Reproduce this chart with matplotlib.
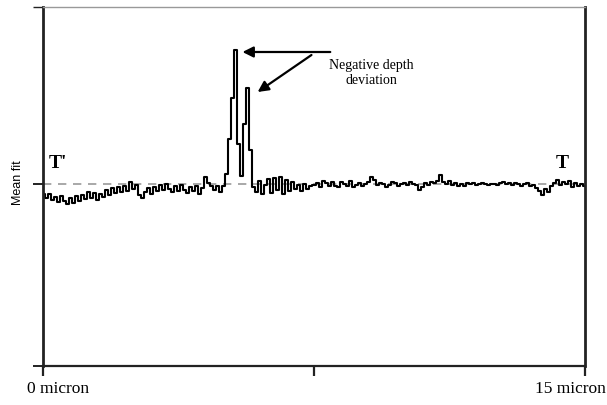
import numpy as np
import matplotlib
matplotlib.use("Agg")
import matplotlib.pyplot as plt

# deviation of the mean fit from its average level (arbitrary units), 0..15 micron
seg_left = [-1.0, -1.4, -1.0, -1.6, -1.3, -1.8, -1.2, -1.7, -2.0, -1.4, -1.9, -1.2, -1.7, -1.1, -1.5, -0.8, -1.4, -0.9, -1.6, -1.0,
            -1.3, -0.6, -1.1, -0.4, -0.9, -0.3, -0.8, -0.2, -0.7, 0.2, -0.5, -0.1, -1.1, -1.4, -0.8, -0.4, -1.0, -0.3, -0.7, -0.1,
            -0.6, 0.0, -0.5, -0.8, -0.2, -0.7, -0.1, -0.6, -0.9, -0.3, -0.7, -0.2, -1.0, -0.4, 0.7, 0.1, -0.2, -0.6, -0.2, -0.8, -0.2]
seg_peak = [1.0, 4.5, 8.6, 13.4, 4.0, 0.8, 6.0, 9.6, 3.4]
seg_right = [-0.3, -0.8, 0.3, -1.0, -0.1, 0.5, -0.9, 0.6, -0.6, 0.7, -1.0, 0.4, -0.7, 0.2, -0.5, -0.1, -0.7, 0.0, -0.5, -0.2,
             -0.1, 0.1, -0.3, 0.3, 0.1, -0.2, 0.2, -0.2, -0.3, 0.2, 0.0, -0.2, 0.3, -0.3, -0.1, 0.1, -0.2, 0.0, 0.2, 0.7,
             0.4, -0.1, 0.1, 0.0, -0.3, -0.1, 0.2, 0.1, -0.2, 0.0, 0.1, -0.1, 0.2, 0.0, -0.1, -0.6, -0.3, 0.1, -0.1, 0.2,
             0.1, 0.3, 0.9, 0.2, 0.0, 0.3, -0.1, 0.1, -0.2, 0.0, -0.2, 0.1, 0.0, 0.1, -0.1, 0.0, 0.1, 0.0, -0.1, 0.0,
             0.0, -0.1, 0.1, 0.2, 0.0, 0.1, -0.1, 0.1, 0.0, -0.2, 0.0, 0.1, -0.2, -0.1, -0.4, -0.7, -1.1, -0.5, -0.8, -0.2,
             0.1, 0.4, -0.1, 0.2, 0.0, 0.3, -0.3, 0.1, -0.2, 0.0, -0.2]
values = seg_left + seg_peak + seg_right
x_start, x_end = 0, 15
x_tick_labels = ["0 micron", "15 micron"]
y_label = "Mean fit"
annotation = "Negative depth\ndeviation"

x = np.linspace(x_start, x_end, len(values))

fig = plt.figure(figsize=(6.07, 4.05), dpi=100)
ax = fig.add_axes([43/607, 1-366/405, (585-43)/607, (366-7)/405])

ymin, ymax = -18.2, 17.7
ax.axhline(0, color="#9a9a9a", lw=1.2, ls=(0, (5, 4)), zorder=1)
ax.plot(x, values, color="black", lw=1.5, drawstyle="steps-mid", zorder=2)
ax.set_xlim(x_start, x_end)
ax.set_ylim(ymin, ymax)

for s in ["left", "right"]:
    ax.spines[s].set_linewidth(2.0)
    ax.spines[s].set_color("#222222")
ax.spines["bottom"].set_linewidth(1.6)
ax.spines["bottom"].set_color("#222222")
ax.spines["top"].set_linewidth(1.0)
ax.spines["top"].set_color("#999999")

ax.set_xticks([0, 7.5, 15])
ax.set_xticklabels([])
ax.set_yticks([ymin, 0, ymax])
ax.set_yticklabels([])
ax.tick_params(axis="x", direction="out", length=7, width=1.6, color="#222222")
ax.tick_params(axis="y", direction="out", length=7, width=1.4, color="#222222")
ax.yaxis.get_major_ticks()[2].tick1line.set_color("#999999")
ax.yaxis.get_major_ticks()[2].tick1line.set_markeredgewidth(1.0)

serif = "Liberation Serif"
fig.text(58/607, 1-389/405, x_tick_labels[0], ha="center", va="center", family=serif, fontsize=12.5)
fig.text(570/607, 1-389/405, x_tick_labels[1], ha="center", va="center", family=serif, fontsize=12.5)
fig.text(18/607, 1-183/405, y_label, ha="center", va="center", rotation=90, family="Liberation Sans", fontsize=9)

ax.text(0.41, 2.1, "T'", family=serif, fontsize=14, fontweight="bold", ha="center", va="center")
ax.text(14.36, 2.1, "T", family=serif, fontsize=14, fontweight="bold", ha="center", va="center")

ax.text(9.09, 11.1, annotation, family=serif, fontsize=10, ha="center", va="center", linespacing=1.25)
arrow = dict(arrowstyle="-|>", color="black", lw=1.6, mutation_scale=16, shrinkA=0, shrinkB=0)
ax.annotate("", xy=(5.52, 13.2), xytext=(7.95, 13.2), arrowprops=arrow)
ax.annotate("", xy=(5.94, 9.2), xytext=(7.43, 12.9), arrowprops=arrow)

fig.savefig("out.png", dpi=100)
